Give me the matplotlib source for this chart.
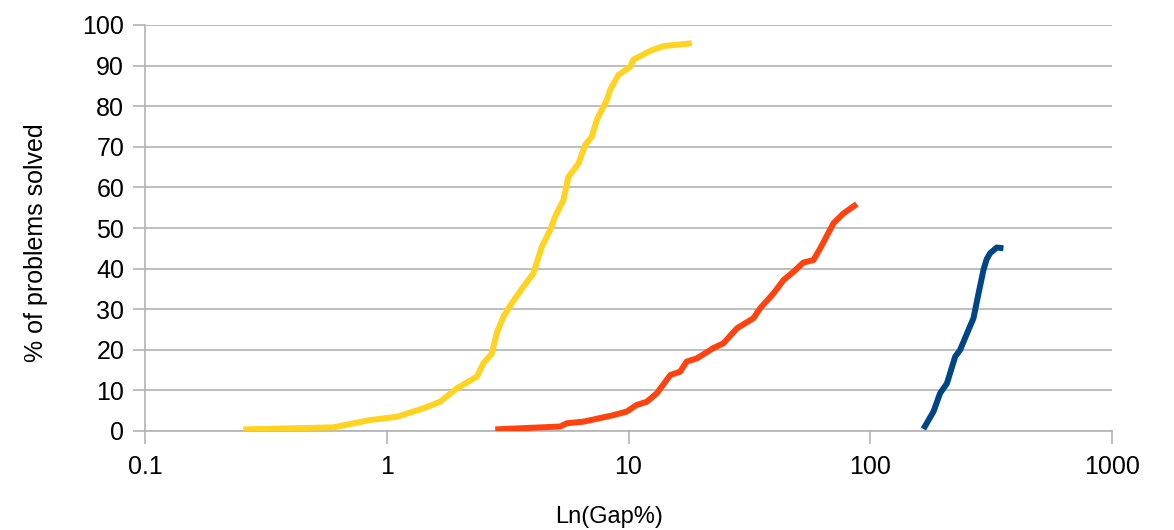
import matplotlib
matplotlib.use("Agg")
import matplotlib.pyplot as plt

# Data
yellow_x = [0.255, 0.601, 0.853, 1.10, 1.42, 1.66, 1.95, 2.36, 2.51, 2.72, 2.85, 3.04, 3.29, 3.67,
            4.04, 4.38, 4.74, 4.97, 5.38, 5.64, 6.21, 6.61, 7.05, 7.39, 8.13, 8.39, 9.08, 10.15,
            10.48, 12.49, 13.96, 18.28]
yellow_y = [0.4, 0.9, 2.7, 3.5, 5.6, 7.2, 10.5, 13.4, 16.7, 19.1, 24.1, 28.2, 31.5, 35.5,
            38.8, 45.4, 49.5, 52.8, 56.9, 62.6, 65.9, 70.4, 72.5, 76.6, 81.5, 84.0, 87.7, 89.7,
            91.5, 93.8, 94.8, 95.5]

red_x = [2.81, 5.21, 5.56, 6.51, 8.66, 9.84, 10.8, 11.9, 13.1, 14.9, 16.35, 17.4, 19.2, 22.4,
         24.7, 28.1, 32.9, 35.0, 39.8, 43.8, 48.1, 52.9, 58.2, 62.1, 70.5, 77.5, 88.0]
red_y = [0.4, 1.1, 1.9, 2.3, 3.9, 4.8, 6.4, 7.2, 9.3, 13.8, 14.6, 17.1, 17.9, 20.4,
         21.6, 25.3, 27.8, 30.2, 33.9, 37.2, 39.2, 41.5, 42.1, 45.0, 51.2, 53.6, 55.9]

blue_x = [166, 182.7, 194.5, 207.5, 224.5, 235.5, 254.9, 267.4, 280.5, 294.1, 303.0, 313.4, 333.8, 355.6]
blue_y = [0.5, 4.8, 9.3, 11.7, 18.3, 20.0, 24.9, 27.8, 33.9, 39.7, 42.3, 43.8, 45.2, 45.0]

x_ticks = [0.1, 1, 10, 100, 1000]
x_tick_labels = ["0.1", "1", "10", "100", "1000"]
y_ticks = list(range(0, 101, 10))

plt.rcParams['font.family'] = ['Liberation Sans', 'DejaVu Sans']

fig = plt.figure(figsize=(11.74, 5.30), dpi=100)
ax = fig.add_axes([145/1174, 99/530, (1112-145)/1174, (431-25)/530])

grid_c = "#b3b3b3"
ax.plot(yellow_x, yellow_y, color="#FFD320", lw=4.3, solid_capstyle="butt", solid_joinstyle="round", zorder=3)
ax.plot(red_x, red_y, color="#FF420E", lw=4.3, solid_capstyle="butt", solid_joinstyle="round", zorder=3)
ax.plot(blue_x, blue_y, color="#004586", lw=4.3, solid_capstyle="butt", solid_joinstyle="round", zorder=3)

ax.set_xscale("log")
ax.set_xlim(0.1, 1000)
ax.set_ylim(0, 100)
ax.set_xticks(x_ticks)
ax.set_xticklabels(x_tick_labels)
ax.xaxis.set_minor_locator(matplotlib.ticker.NullLocator())
ax.set_yticks(y_ticks)

ax.yaxis.grid(True, color=grid_c, lw=1.2)
ax.set_axisbelow(True)
for s in ["top", "right"]:
    ax.spines[s].set_visible(False)
ax.spines["left"].set_color(grid_c)
ax.spines["bottom"].set_color(grid_c)
ax.spines["left"].set_linewidth(1.2)
ax.spines["bottom"].set_linewidth(1.2)

ax.tick_params(axis="both", colors=grid_c, labelcolor="black", labelsize=18, length=9, width=1.2)
ax.tick_params(axis="x", pad=8)
ax.tick_params(axis="y", pad=6)

ax.set_xlabel("Ln(Gap%)", fontsize=17, labelpad=20)
ax.set_ylabel("% of problems solved", fontsize=18, labelpad=25)
ax.xaxis.label.set_x(0.48)
ax.yaxis.label.set_y(0.463)

fig.savefig("out.png", dpi=100)
